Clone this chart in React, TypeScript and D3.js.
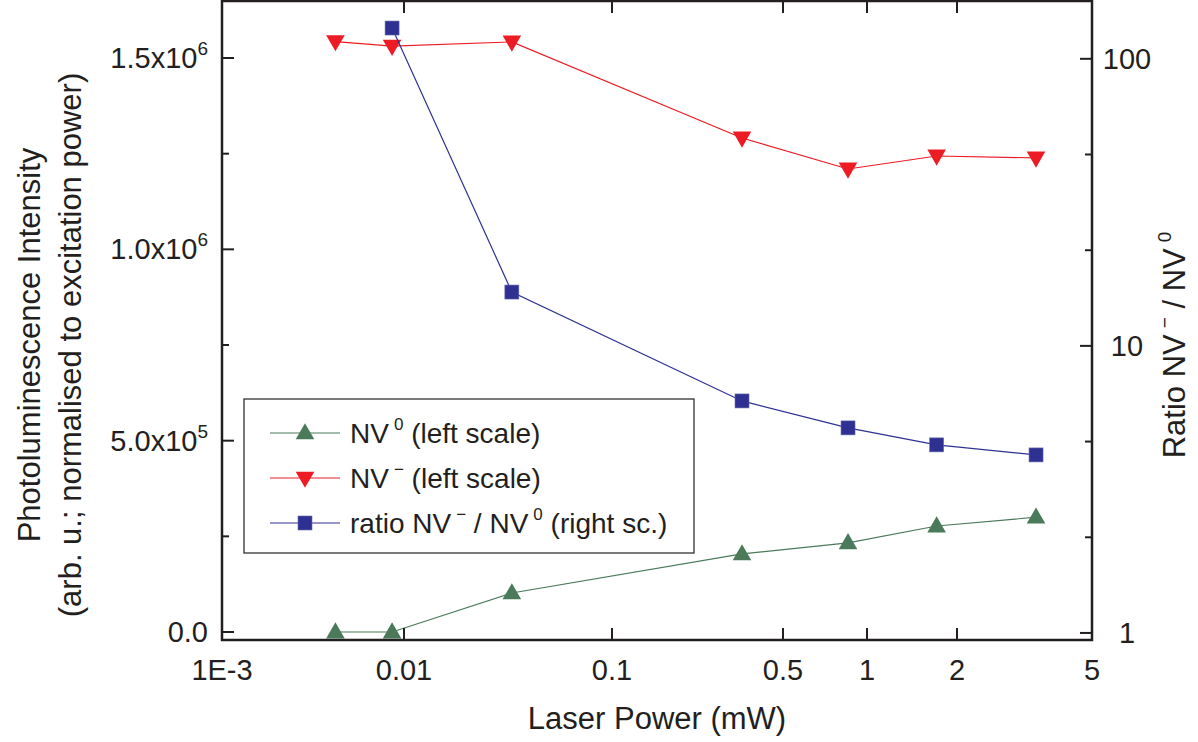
import React from 'react'
import * as d3 from 'd3'

// laser power (mW) of each measurement
const powerMW = [0.0042, 0.0086, 0.033, 0.34, 0.855, 1.71, 3.42]
// PL intensity, left scale
const nv0 = [0, 0, 0.102e6, 0.204e6, 0.233e6, 0.277e6, 0.3e6]
const nvMinus = [1.543e6, 1.531e6, 1.542e6, 1.291e6, 1.21e6, 1.244e6, 1.239e6]
// ratio NV- / NV0, right scale (no value for the first power)
const ratioPower = [0.0086, 0.033, 0.34, 0.855, 1.71, 3.42]
const ratio = [128, 15.4, 6.43, 5.18, 4.52, 4.17]

// axis ticks
const xTicks = [0.001, 0.01, 0.1, 0.5, 1, 2, 5]
const xTickLabels = ['1E-3', '0.01', '0.1', '0.5', '1', '2', '5']
// the original x axis is not uniformly logarithmic, so tick places are given as fractions of the width
const xTickFrac = [0, 0.2092, 0.4483, 0.6448, 0.7414, 0.8448, 1]
const leftTicks = [0, 0.5e6, 1.0e6, 1.5e6]
const leftTickMant = ['0.0', '5.0x10', '1.0x10', '1.5x10']
const leftTickExp = ['', '5', '6', '6']
const leftMinor = [0.25e6, 0.75e6, 1.25e6]
const rightTicks = [1, 10, 100]
const rightMinor = [2.154, 4.642, 21.54, 46.42]

const W = 1198
const H = 742
const margin = { top: 1, right: 106, bottom: 102, left: 222 }
const pw = W - margin.left - margin.right
const ph = H - margin.top - margin.bottom

const INK = '#231f20'
const GREEN = '#4a7a5a'
const RED = '#ed1c24'
const BLUE = '#2e3192'
const FONT = '"Liberation Sans", Arial, Helvetica, sans-serif'
const TICK_FS = 29
const TITLE_FS = 31

function App() {
  const x = d3.scaleLinear()
    .domain(xTicks.map(Math.log10))
    .range(xTickFrac.map(f => f * pw))
  const px = (v: number) => x(Math.log10(v))

  const yL = d3.scaleLinear().domain([-0.0209e6, 1.649e6]).range([ph, 0])
  const yR = d3.scaleLog().domain([0.945, 159]).range([ph, 0])

  const lineL = d3.line<number>()
    .x((d, i) => px(powerMW[i]))
    .y(d => yL(d))
  const lineR = d3.line<number>()
    .x((d, i) => px(ratioPower[i]))
    .y(d => yR(d))

  const triUp = d3.symbol().type(d3.symbolTriangle).size(150)()
  const sq = (cx: number, cy: number) => (
    <rect x={cx - 7} y={cy - 7} width={14} height={14} fill={BLUE} stroke="#6a6cb0" strokeWidth={0.6} />
  )
  const up = (cx: number, cy: number) => (
    <path d={triUp} transform={`translate(${cx},${cy + 1})`} fill={GREEN} />
  )
  const down = (cx: number, cy: number) => (
    <path d={triUp} transform={`translate(${cx},${cy - 1}) rotate(180)`} fill={RED} />
  )

  const legend = [
    { color: GREEN, mark: up, sup: '0', rest: ' (left scale)', pre: '' },
    { color: RED, mark: down, sup: '\u2212', rest: ' (left scale)', pre: '' },
    { color: BLUE, mark: sq, sup: '\u2212', rest: '', pre: 'ratio ' },
  ]

  return (
    <svg width={W} height={H} style={{ position: 'absolute', left: 0, top: 0, background: '#fff' }}
      fontFamily={FONT} fill={INK}>
      <g transform={`translate(${margin.left},${margin.top})`}>
        {/* data */}
        <path d={lineL(nv0) || ''} fill="none" stroke={GREEN} strokeWidth={1.2} />
        {nv0.map((d, i) => <g key={'g' + i}>{up(px(powerMW[i]), yL(d))}</g>)}
        <path d={lineL(nvMinus) || ''} fill="none" stroke={RED} strokeWidth={1.2} />
        {nvMinus.map((d, i) => <g key={'r' + i}>{down(px(powerMW[i]), yL(d))}</g>)}
        <path d={lineR(ratio) || ''} fill="none" stroke={BLUE} strokeWidth={1.2} />
        {ratio.map((d, i) => <g key={'b' + i}>{sq(px(ratioPower[i]), yR(d))}</g>)}

        {/* frame */}
        <rect x={0} y={0} width={pw} height={ph} fill="none" stroke={INK} strokeWidth={2.5} />

        {/* bottom + top ticks */}
        {xTicks.map((t, i) => (
          <g key={'xt' + i}>
            <line x1={px(t)} x2={px(t)} y1={ph} y2={ph - 12} stroke={INK} strokeWidth={2} />
            <line x1={px(t)} x2={px(t)} y1={0} y2={12} stroke={INK} strokeWidth={2} />
            <text x={px(t)} y={ph + 40} textAnchor="middle" fontSize={TICK_FS}>{xTickLabels[i]}</text>
          </g>
        ))}

        {/* left ticks */}
        {leftTicks.map((t, i) => (
          <g key={'lt' + i}>
            <line x1={0} x2={12} y1={yL(t)} y2={yL(t)} stroke={INK} strokeWidth={2} />
            <text x={-14} y={yL(t) + 10} textAnchor="end" fontSize={TICK_FS}>
              {leftTickMant[i]}
              {leftTickExp[i] && <tspan fontSize={19} dy={-13}>{leftTickExp[i]}</tspan>}
            </text>
          </g>
        ))}
        {leftMinor.map((t, i) => (
          <line key={'lm' + i} x1={0} x2={7} y1={yL(t)} y2={yL(t)} stroke={INK} strokeWidth={2} />
        ))}

        {/* right ticks */}
        {rightTicks.map((t, i) => (
          <g key={'rt' + i}>
            <line x1={pw} x2={pw - 12} y1={yR(t)} y2={yR(t)} stroke={INK} strokeWidth={2} />
            <text x={pw + 35} y={yR(t) + 10} textAnchor="middle" fontSize={TICK_FS}>{t}</text>
          </g>
        ))}
        {rightMinor.map((t, i) => (
          <line key={'rm' + i} x1={pw} x2={pw - 7} y1={yR(t)} y2={yR(t)} stroke={INK} strokeWidth={2} />
        ))}

        {/* legend */}
        <rect x={22} y={398} width={450} height={154} fill="#fff" stroke={INK} strokeWidth={1.2} />
        {legend.map((l, i) => {
          const cy = 432 + i * 45
          return (
            <g key={'lg' + i}>
              <line x1={48} x2={118} y1={cy} y2={cy} stroke={l.color} strokeWidth={1.2} />
              {l.mark(83, cy)}
              <text x={128} y={cy + 10} fontSize={28}>
                {l.pre}NV<tspan fontSize={17} dx={5} dy={-13}>{l.sup}</tspan>
                {i === 2 ? (
                  <>
                    <tspan dy={13}> / NV</tspan>
                    <tspan fontSize={17} dx={5} dy={-13}>0</tspan>
                    <tspan dy={13}> (right sc.)</tspan>
                  </>
                ) : (
                  <tspan dy={13}>{l.rest}</tspan>
                )}
              </text>
            </g>
          )
        })}
      </g>

      {/* axis titles */}
      <text x={657} y={729} textAnchor="middle" fontSize={TITLE_FS}>Laser Power (mW)</text>
      <text transform="translate(40,345) rotate(-90)" textAnchor="middle" fontSize={TITLE_FS}>
        Photoluminescence Intensity
      </text>
      <text transform="translate(81,345) rotate(-90)" textAnchor="middle" fontSize={TITLE_FS}>
        (arb. u.; normalised to excitation power)
      </text>
      <text transform="translate(1185,345) rotate(-90)" textAnchor="middle" fontSize={TITLE_FS}>
        Ratio  NV<tspan fontSize={19} dx={6} dy={-14}>{'\u2212'}</tspan>
        <tspan dy={14}> / NV</tspan>
        <tspan fontSize={19} dx={6} dy={-14}>0</tspan>
      </text>
    </svg>
  )
}

export default App
